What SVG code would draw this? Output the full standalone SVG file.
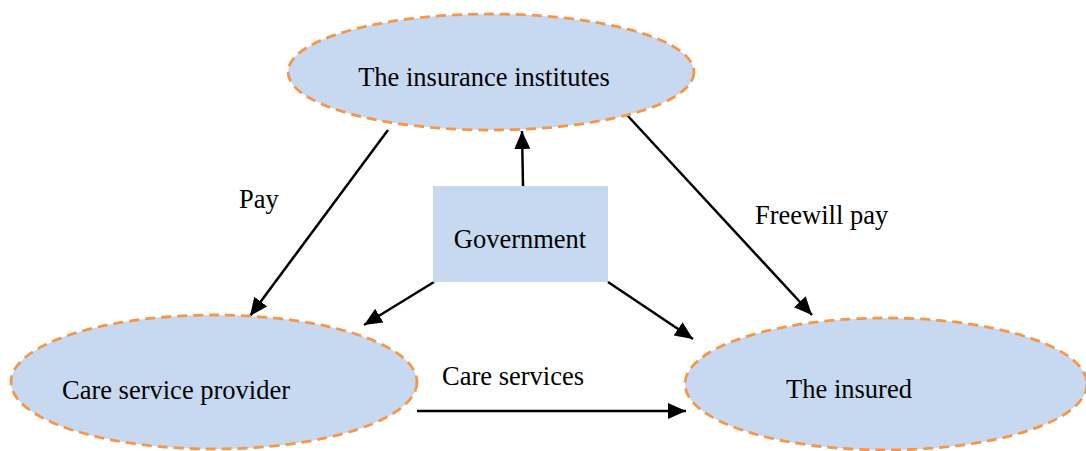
<svg xmlns="http://www.w3.org/2000/svg" width="1086" height="451" viewBox="0 0 1086 451">
  <defs>
    <style>
      .party { fill: #C6D9F1; stroke: #F79646; stroke-width: 2.8; stroke-dasharray: 10 6; }
      .gov { fill: #C6D9F1; stroke: none; }
      .label { font-family: "Liberation Serif", "Times New Roman", serif; font-size: 26.5px; fill: #000; }
      .edge { stroke: #000; stroke-width: 2.5; fill: none; marker-end: url(#arrow); }
    </style>
    <marker id="arrow" markerUnits="userSpaceOnUse" markerWidth="20" markerHeight="18" refX="18" refY="8" orient="auto">
      <path d="M0,0 L18,8 L0,16 Z" fill="#000"/>
    </marker>
  </defs>
  <rect width="1086" height="451" fill="#fff"/>

  <!-- flows between parties -->
  <g id="connectors">
    <line class="edge" x1="523" y1="186" x2="522" y2="131"/>
    <line class="edge" x1="388" y1="130" x2="250" y2="316"/>
    <line class="edge" x1="434" y1="282" x2="364" y2="325"/>
    <line class="edge" x1="608" y1="282" x2="693" y2="339"/>
    <line class="edge" x1="627" y1="115" x2="812" y2="315"/>
    <line class="edge" x1="417" y1="411" x2="686" y2="411"/>
    <text class="label" x="239" y="208">Pay</text>
    <text class="label" x="755" y="224">Freewill pay</text>
    <text class="label" x="442" y="385">Care services</text>
  </g>

  <g id="insurance-institutes">
    <ellipse class="party" cx="491" cy="72" rx="203" ry="58"/>
    <text class="label" x="484" y="86" text-anchor="middle">The insurance institutes</text>
  </g>

  <g id="government">
    <rect class="gov" x="433" y="186" width="175" height="96"/>
    <text class="label" x="520" y="248" text-anchor="middle">Government</text>
  </g>

  <g id="care-service-provider">
    <ellipse class="party" cx="214" cy="382" rx="203" ry="67"/>
    <text class="label" x="176" y="399" text-anchor="middle">Care service provider</text>
  </g>

  <g id="the-insured">
    <ellipse class="party" cx="886" cy="384" rx="201" ry="66"/>
    <text class="label" x="849" y="398" text-anchor="middle">The insured</text>
  </g>
</svg>
